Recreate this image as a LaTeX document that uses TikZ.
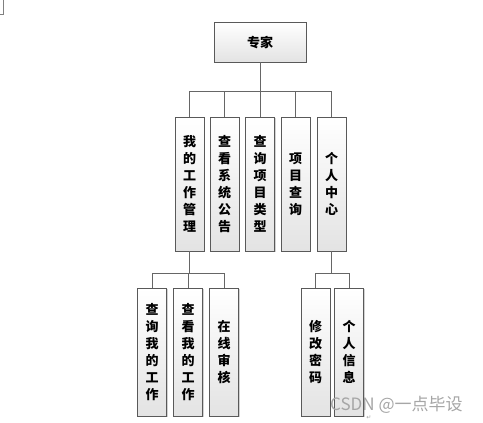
\documentclass[tikz,border=0pt]{standalone}
\usepackage{fontspec}
\newfontfamily\cjk{Noto Sans CJK SC}
\newfontfamily\symb{DejaVu Sans}
\usetikzlibrary{shadows}
\tikzset{
  box/.style={draw=gray!70!black, top color=white, bottom color=gray!22,
    drop shadow={shadow xshift=1.2pt, shadow yshift=-1.2pt, fill=gray!70},
    font=\cjk\bfseries\fontsize{13}{17}\selectfont, align=center,
    inner sep=0pt, anchor=north, minimum width=29pt},
  link/.style={draw=gray!80!black, line width=1pt},
}
\begin{document}
\begin{tikzpicture}[x=1pt,y=-1pt]
  \useasboundingbox (0,0) rectangle (483,423);
  \draw [gray] (3,0) -- (3,14) -- (0,14);
  % top
  \node [box, minimum width=92pt, minimum height=40pt] (zj) at (260,22) {专家};
  % second level
  \node [box, minimum height=134pt] (gl) at (189.5,117) {我\\的\\工\\作\\管\\理};
  \node [box, minimum height=134pt] (xt) at (224.5,117) {查\\看\\系\\统\\公\\告};
  \node [box, minimum height=134pt] (lx) at (260,117) {查\\询\\项\\目\\类\\型};
  \node [box, minimum height=134pt] (cx) at (295.5,117) {项\\目\\查\\询};
  \node [box, minimum height=134pt] (gr) at (331.5,117) {个\\人\\中\\心};
  \draw [link] (zj.south) -- ++(0,29) coordinate (bus1);
  \foreach \n in {gl,xt,lx,cx,gr} \draw [link] (bus1) -| (\n.north);
  % third level
  \node [box, minimum height=128pt] (wd) at (152,288) {查\\询\\我\\的\\工\\作};
  \node [box, minimum height=128pt] (kw) at (188,288) {查\\看\\我\\的\\工\\作};
  \node [box, minimum height=128pt] (sh) at (224,288) {在\\线\\审\\核};
  \node [box, minimum height=128pt] (mm) at (315.5,288) {修\\改\\密\\码};
  \node [box, minimum height=128pt] (xx) at (349,288) {个\\人\\信\\息};
  \draw [link] (gl.south) -- ++(0,22) coordinate (bus2);
  \foreach \n in {wd,kw,sh} \draw [link] (bus2) -| (\n.north);
  \draw [link] (gr.south) -- ++(0,22) coordinate (bus3);
  \foreach \n in {mm,xx} \draw [link] (bus3) -| (\n.north);
  % watermark
  \node [anchor=west, text=gray!70, inner sep=0pt, font=\cjk\fontsize{17}{17}\selectfont] (wm) at (330,405) {CSDN @一点毕设};
  \node [text=gray!70, inner sep=0pt, font=\symb\fontsize{6}{6}\selectfont] (rt) at (369,418) {↵};
\end{tikzpicture}
\end{document}
